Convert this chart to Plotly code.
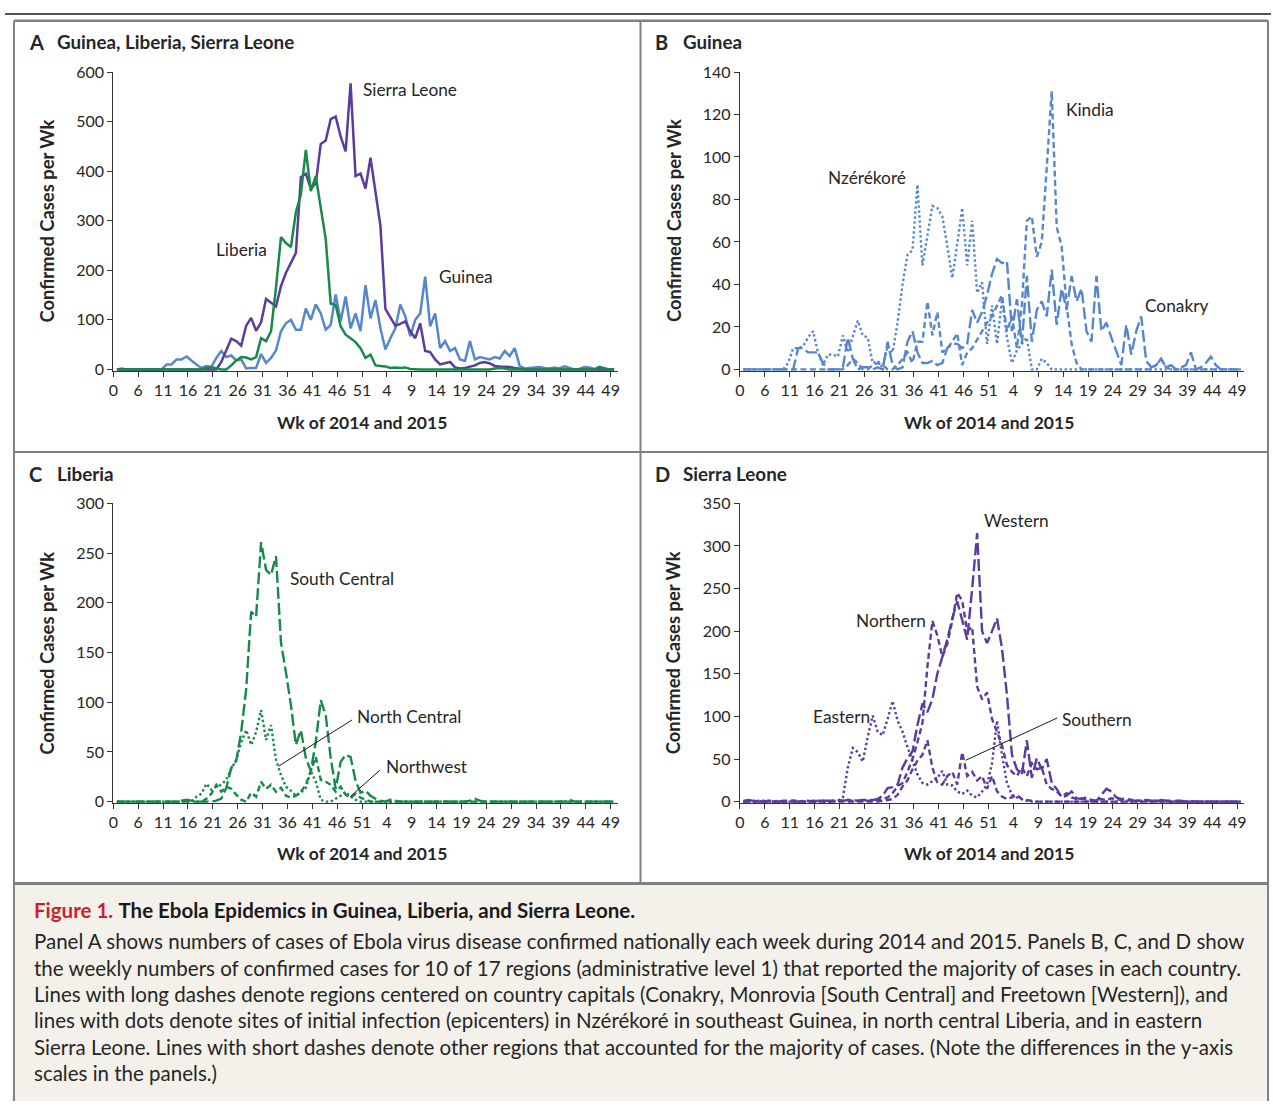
import plotly.graph_objects as go

W, H = 1273, 1108
FONT = "Lato"


def X(px):
    return px / W


def Y(py):
    return 1 - py / H


# ---------------- data ----------------
weeks = list(range(101))
tick_labels = ["0", "6", "11", "16", "21", "26", "31", "36", "41", "46", "51",
               "4", "9", "14", "19", "24", "29", "34", "39", "44", "49"]

# Panel A: national weekly confirmed cases
guinea = [0, 2, 0, 0, 0, 0, 0, 0, 0, 0,
          10, 10, 20, 20, 26, 17, 10, 3, 7, 5,
          23, 37, 25, 28, 18, 20, 2, 3, 3, 31,
          13, 23, 38, 77, 93, 100, 80, 80, 123, 100,
          131, 113, 80, 90, 151, 97, 147, 83, 113, 77,
          170, 103, 140, 83, 40, 63, 83, 131, 107, 67,
          100, 113, 187, 87, 113, 43, 57, 37, 43, 20,
          17, 57, 20, 25, 23, 20, 25, 22, 37, 27,
          43, 7, 2, 3, 4, 5, 3, 2, 4, 2,
          6, 3, 0, 1, 5, 4, 1, 0, 0, 1,
          0]
liberia = [0, 0, 0, 0, 0, 0, 0, 0, 0, 0,
           0, 0, 0, 0, 1, 0, 0, 0, 3, 5,
           2, 0, 0, 8, 18, 25, 24, 20, 25, 63,
           57, 77, 165, 267, 255, 247, 317, 353, 443, 360,
           390, 330, 263, 133, 130, 87, 70, 63, 55, 43,
           23, 30, 8, 7, 6, 3, 4, 3, 4, 1,
           0, 0, 0, 0, 0, 1, 0, 0, 0, 0,
           0, 0, 0, 0, 0, 0, 2, 3, 2, 0,
           0, 0, 0, 0, 0, 0, 0, 0, 0, 0,
           0, 0, 0, 0, 0, 0, 0, 5, 2, 0,
           0]
sierra_leone = [0, 0, 0, 0, 0, 0, 0, 0, 0, 0,
                0, 0, 0, 0, 0, 0, 0, 0, 0, 0,
                0, 15, 38, 62, 57, 48, 88, 104, 78, 95,
                142, 135, 127, 168, 195, 215, 235, 388, 395, 365,
                375, 455, 462, 505, 510, 470, 440, 577, 390, 395,
                365, 427, 360, 290, 122, 105, 88, 92, 97, 77,
                63, 93, 37, 35, 20, 10, 12, 15, 4, 2,
                3, 5, 8, 13, 15, 12, 7, 6, 6, 5,
                3, 1, 0, 0, 0, 0, 1, 0, 0, 0,
                0, 0, 0, 0, 0, 0, 0, 0, 0, 0,
                0]

# Panel B: Guinea regions
nzerekore = [0, 0, 0, 0, 0, 0, 0, 0, 0, 3,
             10, 10, 11, 15, 18, 8, 2, 7, 7, 6,
             16, 8, 15, 23, 16, 15, 3, 4, 1, 11,
             8, 22, 40, 54, 56, 87, 49, 64, 77, 76,
             72, 58, 43, 59, 76, 49, 70, 36, 41, 12,
             30, 12, 33, 15, 3, 9, 12, 15, 0, 0,
             5, 3, 0, 0, 0, 0, 0, 0, 0, 0,
             0, 0, 0, 0, 0, 0, 0, 0, 0, 0,
             0, 0, 0, 0, 0, 0, 0, 0, 0, 0,
             0, 0, 0, 0, 0, 0, 0, 0, 0, 0,
             0]
kindia = [0, 0, 0, 0, 0, 0, 0, 0, 0, 0,
          0, 0, 0, 0, 0, 0, 0, 0, 0, 0,
          0, 2, 5, 3, 0, 0, 2, 3, 2, 0,
          0, 2, 5, 8, 3, 13, 13, 32, 16, 27,
          8, 10, 13, 17, 2, 8, 10, 14, 18, 22,
          25, 30, 35, 18, 25, 10, 30, 70, 72, 53,
          60, 95, 131, 67, 58, 30, 12, 3, 0, 0,
          0, 0, 0, 0, 0, 0, 0, 0, 0, 0,
          0, 0, 0, 2, 5, 1, 0, 0, 0, 0,
          0, 0, 0, 0, 0, 0, 0, 0, 0, 0,
          0]
conakry = [0, 0, 0, 0, 0, 0, 0, 0, 0, 0,
           0, 10, 10, 8, 8, 8, 3, 0, 0, 0,
           1, 15, 5, 0, 1, 1, 0, 1, 0, 13,
           2, 0, 1, 13, 18, 8, 3, 3, 4, 2,
           3, 10, 12, 12, 10, 12, 28, 22, 27, 35,
           45, 52, 50, 51, 18, 33, 12, 44, 13, 28,
           32, 25, 47, 21, 38, 28, 44, 32, 38, 18,
           13, 44, 18, 22, 15, 8, 2, 21, 7, 18,
           25, 4, 1, 2, 5, 1, 2, 0, 1, 2,
           8, 0, 1, 3, 6, 2, 0, 0, 0, 0,
           0]

# Panel C: Liberia regions
south_central = [0, 0, 0, 0, 0, 0, 0, 0, 0, 0,
                 0, 0, 0, 1, 2, 1, 0, 0, 0, 0,
                 1, 3, 14, 34, 41, 70, 113, 191, 186, 261,
                 233, 228, 247, 160, 130, 97, 57, 72, 44, 31,
                 60, 102, 87, 44, 13, 40, 47, 45, 21, 9,
                 11, 6, 3, 1, 0, 2, 1, 0, 0, 0,
                 0, 0, 0, 0, 0, 0, 0, 0, 0, 0,
                 0, 1, 3, 1, 0, 0, 0, 0, 0, 0,
                 0, 0, 0, 0, 0, 0, 0, 0, 0, 0,
                 0, 2, 0, 0, 0, 0, 0, 0, 0, 0,
                 0]
north_central = [0, 0, 0, 0, 0, 0, 0, 0, 0, 0,
                 0, 0, 0, 0, 0, 0, 5, 8, 18, 12,
                 15, 17, 22, 33, 42, 60, 72, 57, 70, 92,
                 62, 77, 42, 27, 15, 11, 6, 9, 14, 31,
                 20, 2, 0, 0, 3, 6, 10, 5, 2, 0,
                 0, 0, 0, 0, 0, 0, 0, 0, 0, 0,
                 0, 0, 0, 0, 0, 0, 0, 0, 0, 0,
                 0, 0, 0, 0, 0, 0, 0, 0, 0, 0,
                 0, 0, 0, 0, 0, 0, 0, 0, 0, 0,
                 0, 0, 0, 0, 0, 0, 0, 0, 0, 0,
                 0]
northwest = [0, 0, 0, 0, 0, 0, 0, 0, 0, 0,
             0, 0, 0, 0, 0, 0, 0, 0, 3, 8,
             17, 10, 15, 13, 7, 2, 0, 9, 5, 20,
             13, 17, 10, 14, 6, 4, 6, 10, 17, 30,
             45, 22, 20, 17, 10, 15, 7, 4, 8, 4,
             2, 0, 0, 0, 1, 0, 0, 0, 0, 0,
             0, 0, 0, 0, 0, 0, 0, 0, 0, 0,
             0, 0, 0, 0, 0, 0, 0, 0, 0, 0,
             0, 0, 0, 0, 0, 0, 0, 0, 0, 0,
             0, 0, 0, 0, 0, 0, 0, 0, 0, 0,
             0]

# Panel D: Sierra Leone regions
western = [1, 2, 1, 1, 0, 1, 1, 0, 1, 1,
           1, 0, 1, 1, 0, 1, 1, 1, 1, 2,
           1, 2, 2, 1, 2, 2, 2, 3, 7, 16,
           17, 20, 40, 51, 59, 90, 115, 105, 120, 150,
           170, 190, 215, 235, 213, 190, 250, 315, 200, 186,
           200, 215, 180, 125, 55, 38, 32, 72, 28, 51,
           38, 50, 22, 15, 5, 7, 12, 4, 3, 5,
           2, 1, 8, 15, 12, 5, 3, 4, 2, 1,
           1, 2, 1, 1, 2, 1, 0, 1, 1, 0,
           1, 0, 0, 0, 0, 0, 0, 0, 0, 0,
           0]
northern = [0, 1, 0, 1, 1, 0, 0, 1, 0, 0,
            1, 1, 0, 0, 1, 1, 1, 0, 1, 1,
            1, 2, 1, 1, 2, 1, 2, 2, 3, 5,
            10, 18, 22, 35, 50, 70, 92, 158, 212, 195,
            170, 185, 212, 245, 236, 200, 205, 135, 120, 128,
            97, 82, 66, 43, 35, 30, 40, 30, 45, 38,
            40, 20, 15, 12, 6, 10, 5, 3, 4, 2,
            1, 2, 3, 2, 4, 3, 2, 1, 2, 1,
            1, 2, 1, 1, 1, 1, 1, 0, 0, 0,
            0, 0, 0, 0, 0, 0, 0, 0, 0, 0,
            0]
eastern = [0, 0, 0, 0, 0, 0, 0, 0, 0, 0,
           0, 0, 0, 0, 0, 0, 0, 0, 0, 1,
           5, 40, 63, 58, 47, 76, 101, 82, 78, 97,
           118, 95, 82, 64, 48, 32, 22, 20, 24, 28,
           36, 20, 19, 12, 9, 13, 7, 5, 12, 20,
           45, 95, 55, 22, 8, 5, 3, 1, 0, 0,
           0, 0, 0, 0, 0, 0, 0, 0, 0, 0,
           0, 0, 0, 0, 0, 0, 0, 0, 0, 0,
           0, 0, 0, 0, 0, 0, 0, 0, 0, 0,
           0, 0, 0, 0, 0, 0, 0, 0, 0, 0,
           0]
southern = [0, 0, 0, 0, 0, 0, 0, 0, 0, 0,
            0, 0, 0, 0, 0, 0, 0, 0, 0, 0,
            0, 0, 0, 0, 0, 0, 0, 0, 1, 2,
            3, 8, 18, 25, 38, 48, 55, 72, 40, 22,
            20, 30, 35, 20, 58, 30, 35, 25, 30, 15,
            30, 12, 6, 3, 5, 8, 3, 2, 1, 0,
            0, 0, 0, 0, 0, 0, 0, 0, 0, 0,
            0, 0, 0, 0, 0, 0, 0, 0, 0, 0,
            0, 0, 0, 0, 0, 0, 0, 0, 0, 0,
            0, 0, 0, 0, 0, 0, 0, 0, 0, 0,
            0]

# ---------------- styles ----------------
BLUE = "#5787cb"
GREEN = "#178a4a"
PURPLE = "#5b3c9c"
AXC = "#333333"
TXT = "#262626"
GRAYF = "#808080"

LONG = "12px,4px"
SHORT = "6px,3.5px"
DOT = "2.4px,2.6px"

tick_pos = [5 * j - 0.7 for j in range(21)]

# panel pixel boxes: (x0, x1, y_zero, y_top, ymax, dtick)
panels = {
    "1": (109, 616, 365, 63, 600, 100),
    "2": (739, 1246, 365, 63, 140, 20),
    "3": (109, 616, 804, 501, 300, 50),
    "4": (739, 1246, 804, 501, 350, 50),
}

layout = dict(
    width=W, height=H,
    margin=dict(l=0, r=0, t=0, b=0),
    paper_bgcolor="white", plot_bgcolor="rgba(0,0,0,0)",
    showlegend=False,
    font=dict(family=FONT, color=TXT),
)

PAD = 1.5
for k, (x0, x1, yz, yt, ymax, dt) in panels.items():
    scale = (yz - yt) / ymax
    xa = "xaxis" if k == "1" else "xaxis" + k
    ya = "yaxis" if k == "1" else "yaxis" + k
    layout[xa] = dict(
        domain=[X(x0), X(x1)], range=[-0.7, -0.7 + (x1 - x0) / 5.0],
        anchor="y" if k == "1" else "y" + k,
        tickmode="array", tickvals=tick_pos, ticktext=tick_labels,
        ticks="outside", ticklen=5, tickwidth=1.2, tickcolor=AXC,
        showline=True, linecolor=AXC, linewidth=1.2,
        showgrid=False, zeroline=False, fixedrange=True,
        tickfont=dict(family=FONT, size=16, color=TXT),
    )
    layout[ya] = dict(
        domain=[Y(yz + PAD), Y(yt)], range=[-PAD / scale, ymax],
        anchor="x" if k == "1" else "x" + k,
        tickmode="array", tickvals=list(range(0, ymax + 1, dt)),
        ticks="outside", ticklen=5, tickwidth=1.2, tickcolor=AXC,
        showline=True, linecolor=AXC, linewidth=1.2,
        showgrid=False, zeroline=False, fixedrange=True,
        tickfont=dict(family=FONT, size=16, color=TXT),
    )

fig = go.Figure()


def add(y, color, dash, ax, width=2.4):
    fig.add_trace(go.Scatter(
        x=weeks, y=y, mode="lines",
        line=dict(color=color, width=width, dash=dash, shape="linear"),
        xaxis="x" if ax == "1" else "x" + ax,
        yaxis="y" if ax == "1" else "y" + ax,
        hoverinfo="skip",
    ))


# Panel A
add(guinea, BLUE, "solid", "1", 2.5)
add(sierra_leone, PURPLE, "solid", "1", 2.5)
add(liberia, GREEN, "solid", "1", 2.5)
# Panel B
add(nzerekore, BLUE, DOT, "2")
add(kindia, BLUE, SHORT, "2")
add(conakry, BLUE, LONG, "2")
# Panel C
add(north_central, GREEN, DOT, "3")
add(northwest, GREEN, SHORT, "3")
add(south_central, GREEN, LONG, "3")
# Panel D
add(eastern, PURPLE, DOT, "4")
add(southern, PURPLE, SHORT, "4")
add(northern, PURPLE, SHORT, "4")
add(western, PURPLE, LONG, "4")

fig.update_layout(**layout)

# ---------------- frame shapes ----------------
shapes = []
shapes.append(dict(type="rect", xref="paper", yref="paper", layer="below",
                   x0=X(9), x1=X(1270), y0=0, y1=Y(887),
                   fillcolor="#f4f1eb", line=dict(width=0)))
shapes.append(dict(type="line", xref="paper", yref="paper",
                   x0=0, x1=1, y0=Y(4), y1=Y(4), line=dict(color="#1a1a1a", width=1.6)))
for (a, b, c, d, w) in [
    (9, 11, 1270, 11, 2.5),      # top
    (9, 11, 9, 1108, 2),         # left
    (1270, 11, 1270, 1108, 2),   # right
    (639, 11, 639, 887, 2),      # middle vertical
    (9, 449, 1270, 449, 2),      # middle horizontal
    (9, 887, 1270, 887, 3),      # caption top
]:
    shapes.append(dict(type="line", xref="paper", yref="paper",
                       x0=X(a), y0=Y(b), x1=X(c), y1=Y(d),
                       line=dict(color=GRAYF, width=w)))
for (a, b, c, d) in [
    (349, 721, 275, 768),    # North Central
    (377, 772, 347, 799),    # Northwest
    (1058, 719, 966, 762),   # Southern
]:
    shapes.append(dict(type="line", xref="paper", yref="paper",
                       x0=X(a), y0=Y(b), x1=X(c), y1=Y(d),
                       line=dict(color="#1a1a1a", width=1)))

# ---------------- annotations ----------------
ann = []


def text(s, x, y, size=16, bold=False, anchor="left", color=TXT, angle=0):
    ann.append(dict(
        text="<b>%s</b>" % s if bold else s,
        x=X(x), y=Y(y), xref="paper", yref="paper",
        xanchor=anchor, yanchor="middle", showarrow=False,
        textangle=angle, font=dict(family=FONT, size=size, color=color),
    ))


for letter, title, lx, tx, ty in [("A", "Guinea, Liberia, Sierra Leone", 22, 50, 32),
                                  ("B", "Guinea", 652, 680, 32),
                                  ("C", "Liberia", 22, 50, 471),
                                  ("D", "Sierra Leone", 652, 680, 471)]:
    text(letter, lx, ty, 20, True)
    text(title, tx, ty, 18.8, True)

for cx, cy in [(42, 214), (672, 214), (42, 653), (672, 653)]:
    text("Confirmed Cases per Wk", cx, cy, 18.4, True, "center", angle=-90)
for cx, cy in [(359, 419), (989, 419), (359, 857), (989, 857)]:
    text("Wk of 2014 and 2015", cx, cy, 17.5, True, "center")

for s, x, y in [("Sierra Leone", 358, 81), ("Liberia", 210, 243), ("Guinea", 434, 271),
                ("Kindia", 1065, 101), ("Nzérékoré", 826, 170), ("Conakry", 1144, 300),
                ("South Central", 285, 577), ("North Central", 352, 718), ("Northwest", 381, 768),
                ("Western", 982, 518), ("Northern", 854, 620), ("Eastern", 810, 718),
                ("Southern", 1061, 721)]:
    text(s, x, y, 17.3)

ann.append(dict(
    text="<span style='color:#cf1f2e'><b>Figure 1.</b></span> <b>The Ebola Epidemics in Guinea, Liberia, and Sierra Leone.</b>",
    x=X(27), y=Y(914), xref="paper", yref="paper", xanchor="left", yanchor="middle",
    showarrow=False, font=dict(family=FONT, size=20.5, color="#1a1a1a"),
))
caption_lines = [
    "Panel A shows numbers of cases of Ebola virus disease confirmed nationally each week during 2014 and 2015. Panels B, C, and D show",
    "the weekly numbers of confirmed cases for 10 of 17 regions (administrative level 1) that reported the majority of cases in each country.",
    "Lines with long dashes denote regions centered on country capitals (Conakry, Monrovia [South Central] and Freetown [Western]), and",
    "lines with dots denote sites of initial infection (epicenters) in Nzérékoré in southeast Guinea, in north central Liberia, and in eastern",
    "Sierra Leone. Lines with short dashes denote other regions that accounted for the majority of cases. (Note the differences in the y-axis",
    "scales in the panels.)",
]
for i, line in enumerate(caption_lines):
    text(line, 27, 946 + i * 26.7, 20.5, False, "left", "#262626")

fig.update_layout(shapes=shapes, annotations=ann)
fig.write_html(
    "out.html",
    config={"displayModeBar": False},
    post_script=("document.documentElement.style.margin='0';"
                 "document.body.style.margin='0';"
                 "document.body.style.overflow='hidden';"
                 "document.documentElement.style.overflow='hidden';"),
)
